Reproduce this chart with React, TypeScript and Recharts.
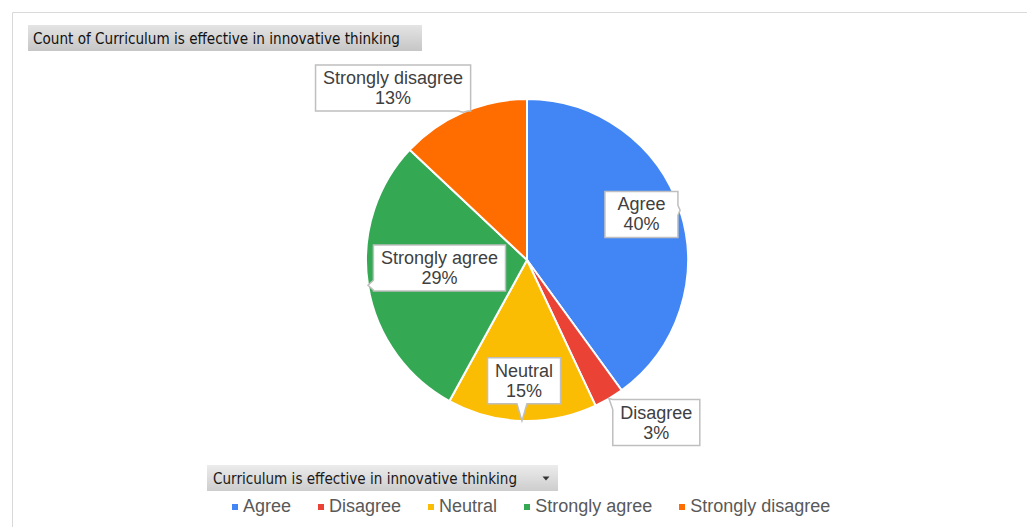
import { PieChart, Pie, Cell, Legend } from 'recharts';

document.body.style.margin = '0';

const categories = ['Agree', 'Disagree', 'Neutral', 'Strongly agree', 'Strongly disagree'];
const counts = [40, 3, 15, 29, 13];
const colors = ['#4285F4', '#EA4335', '#FBBC04', '#34A853', '#FF6D01'];
const chartTitle = 'Count of Curriculum is effective in innovative thinking';
const fieldName = 'Curriculum is effective in innovative thinking';

// callout box placement: angle (deg, ccw from 3 o'clock) and distance in pie radii
const calloutSpots = [
    { angle: 21.7, dist: 0.765 },
    { angle: -51.5, dist: 1.29 },
    { angle: -91.4, dist: 0.75 },
    { angle: 185.2, dist: 0.546 },
    { angle: 127.9, dist: 1.354 },
];

const LABEL_FONT = '18px "Liberation Sans", Arial, sans-serif';
const HEADER_FONT = '"DejaVu Sans", Tahoma, sans-serif';
const RAD = Math.PI / 180;

let ctx: CanvasRenderingContext2D | null = null;
function textWidth(text: string, font: string) {
    if (!ctx) ctx = document.createElement('canvas').getContext('2d');
    if (!ctx) return text.length * 9;
    ctx.font = font;
    return ctx.measureText(text).width;
}

function Callout(props: any) {
    const { cx, cy, outerRadius, midAngle, index, name, percent } = props;
    const spot = calloutSpots[index];
    const bx = cx + outerRadius * spot.dist * Math.cos(spot.angle * RAD);
    const by = cy - outerRadius * spot.dist * Math.sin(spot.angle * RAD);
    const pct = `${Math.round(percent * 100)}%`;
    const w = Math.max(textWidth(name, LABEL_FONT), textWidth(pct, LABEL_FONT), 58) + 15;
    const h = 46;
    const x0 = bx - w / 2;
    const x1 = bx + w / 2;
    const y0 = by - h / 2;
    const y1 = by + h / 2;

    // pointer tip on the slice edge
    const tx = cx + outerRadius * Math.cos(midAngle * RAD);
    const ty = cy - outerRadius * Math.sin(midAngle * RAD);
    const over = {
        left: x0 - tx,
        right: tx - x1,
        top: y0 - ty,
        bottom: ty - y1,
    };
    let edge = '';
    let best = 0;
    (Object.keys(over) as (keyof typeof over)[]).forEach((k) => {
        if (over[k] > best) {
            best = over[k];
            edge = k;
        }
    });

    const half = 5;
    const clamp = (v: number, a: number, b: number) => Math.min(Math.max(v, a), b);
    const pts: number[][] = [[x0, y0]];
    if (edge === 'top') {
        const c = clamp(tx, x0 + half, x1 - half);
        pts.push([c - half, y0], [tx, ty], [c + half, y0]);
    }
    pts.push([x1, y0]);
    if (edge === 'right') {
        const c = clamp(ty, y0 + half, y1 - half);
        pts.push([x1, c - half], [tx, ty], [x1, c + half]);
    }
    pts.push([x1, y1]);
    if (edge === 'bottom') {
        const c = clamp(tx, x0 + half, x1 - half);
        pts.push([c + half, y1], [tx, ty], [c - half, y1]);
    }
    pts.push([x0, y1]);
    if (edge === 'left') {
        const c = clamp(ty, y0 + half, y1 - half);
        pts.push([x0, c + half], [tx, ty], [x0, c - half]);
    }
    const d = 'M' + pts.map((p) => `${p[0]},${p[1]}`).join(' L') + ' Z';

    return (
        <g>
            <path d={d} fill="#ffffff" stroke="#bfbfbf" strokeWidth={1.5} />
            <text
                x={bx}
                y={by - 10}
                textAnchor="middle"
                dominantBaseline="central"
                fontFamily='"Liberation Sans", Arial, sans-serif'
                fontSize={18}
                fill="#404040"
            >
                {name}
            </text>
            <text
                x={bx}
                y={by + 10}
                textAnchor="middle"
                dominantBaseline="central"
                fontFamily='"Liberation Sans", Arial, sans-serif'
                fontSize={18}
                fill="#404040"
            >
                {pct}
            </text>
        </g>
    );
}

function LegendBlock() {
    return (
        <div style={{ position: 'relative', width: 1027, height: 65 }}>
            <svg
                width={360}
                height={30}
                style={{ position: 'absolute', left: 205, top: 1 }}
            >
                <defs>
                    <linearGradient id="fieldGrad" x1="0" y1="0" x2="0" y2="1">
                        <stop offset="0%" stopColor="#ececec" />
                        <stop offset="100%" stopColor="#cdcdcd" />
                    </linearGradient>
                </defs>
                <rect x={2} y={2} width={351} height={26} fill="url(#fieldGrad)" />
                <text
                    x={8}
                    y={20.5}
                    fontFamily={HEADER_FONT}
                    fontSize={15.5}
                    textLength={304}
                    lengthAdjust="spacingAndGlyphs"
                    fill="#1a1a1a"
                >
                    {fieldName}
                </text>
                <path d="M337.5,13.5 L344.5,13.5 L341,17.5 Z" fill="#333" />
            </svg>
            <div
                style={{
                    position: 'absolute',
                    left: 232,
                    top: 34,
                    display: 'flex',
                    alignItems: 'center',
                    gap: 27,
                    fontFamily: '"Liberation Sans", Arial, sans-serif',
                    fontSize: 18,
                    color: '#595959',
                    whiteSpace: 'nowrap',
                }}
            >
                {categories.map((c, i) => (
                    <div key={c} style={{ display: 'flex', alignItems: 'center', gap: 5 }}>
                        <span
                            style={{
                                display: 'inline-block',
                                width: 6,
                                height: 6,
                                background: colors[i],
                            }}
                        />
                        <span>{c}</span>
                    </div>
                ))}
            </div>
        </div>
    );
}

export default function App() {
    const data = categories.map((name, i) => ({ name, value: counts[i] }));

    return (
        <div style={{ position: 'relative', width: 1027, height: 527, background: '#fff' }}>
            <svg
                width={1027}
                height={527}
                style={{ position: 'absolute', left: 0, top: 0 }}
            >
                <defs>
                    <linearGradient id="titleGrad" x1="0" y1="0" x2="0" y2="1">
                        <stop offset="0%" stopColor="#e4e4e4" />
                        <stop offset="100%" stopColor="#c6c6c6" />
                    </linearGradient>
                </defs>
                <line x1={12.5} y1={12.5} x2={1027} y2={12.5} stroke="#d9d9d9" />
                <line x1={12.5} y1={12.5} x2={12.5} y2={527} stroke="#d9d9d9" />
                <rect x={28} y={25} width={394} height={26} fill="url(#titleGrad)" />
                <text
                    x={33}
                    y={44}
                    fontFamily={HEADER_FONT}
                    fontSize={15.5}
                    textLength={367}
                    lengthAdjust="spacingAndGlyphs"
                    fill="#111"
                >
                    {chartTitle}
                </text>
            </svg>
            <PieChart
                width={1027}
                height={527}
                margin={{ top: 0, right: 0, bottom: 0, left: 0 }}
                style={{ position: 'absolute', left: 0, top: 0 }}
            >
                <Pie
                    data={data}
                    dataKey="value"
                    nameKey="name"
                    cx={527}
                    cy={260}
                    outerRadius={161}
                    startAngle={90}
                    endAngle={-270}
                    stroke="#ffffff"
                    strokeWidth={2}
                    label={Callout}
                    labelLine={false}
                    isAnimationActive={false}
                >
                    {data.map((d, i) => (
                        <Cell key={d.name} fill={colors[i]} />
                    ))}
                </Pie>
                <Legend
                    content={() => <LegendBlock />}
                    wrapperStyle={{ position: 'absolute', left: 0, top: 462, width: 1027 }}
                />
            </PieChart>
        </div>
    );
}
